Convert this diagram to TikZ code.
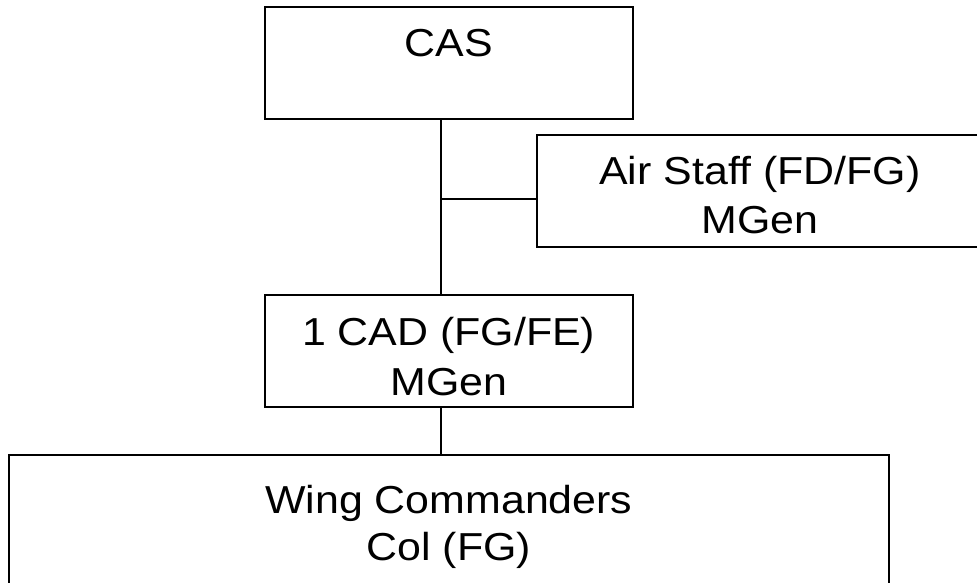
\documentclass[tikz,border=0pt]{standalone}
\usepackage{fontspec}
\setmainfont{Liberation Sans}[FakeStretch=1.1]
\begin{document}
\begin{tikzpicture}[x=1pt,y=-1pt,
  box/.style={draw, line width=2pt, rectangle, inner sep=0pt, outer sep=0pt},
  lbl/.style={inner sep=0pt, outer sep=0pt, anchor=base, font=\fontsize{39}{50}\selectfont},
  conn/.style={draw, line width=2pt}]
\useasboundingbox (0,0) rectangle (977,582);
\clip (0,0) rectangle (977,582);
% boxes
\node[box, minimum width=368pt, minimum height=111.8pt] (cas) at (448.7,62.6) {};
\node[box, minimum width=446.3pt, minimum height=112pt] (air) at (759.85,190.7) {};
\node[box, minimum width=368pt, minimum height=111.7pt] (cad) at (448.7,350.85) {};
\node[box, minimum width=880.3pt, minimum height=140.3pt] (wing) at (448.85,524.85) {};
% texts
\node[lbl] (cast) at (448.7,56.3) {CAS};
\node[lbl] (airt1) at (759.85,184.3) {Air Staff (FD/FG)};
\node[lbl] (airt2) at (759.85,233.3) {MGen};
\node[lbl] (cadt1) at (448.7,345) {1 CAD (FG/FE)};
\node[lbl] (cadt2) at (448.7,395) {MGen};
\node[lbl] (wingt1) at (448.85,513) {Wing Commanders};
\node[lbl] (wingt2) at (448.85,560) {Col (FG)};
% connectors
\coordinate (spine) at (440.7,0);
\coordinate (airjoin) at (440.7,199);
\draw[conn] (cas.south -| spine) -- (cad.north -| spine);
\draw[conn] (airjoin) -- (airjoin -| air.west);
\draw[conn] (cad.south -| spine) -- (wing.north -| spine);
\end{tikzpicture}
\end{document}
